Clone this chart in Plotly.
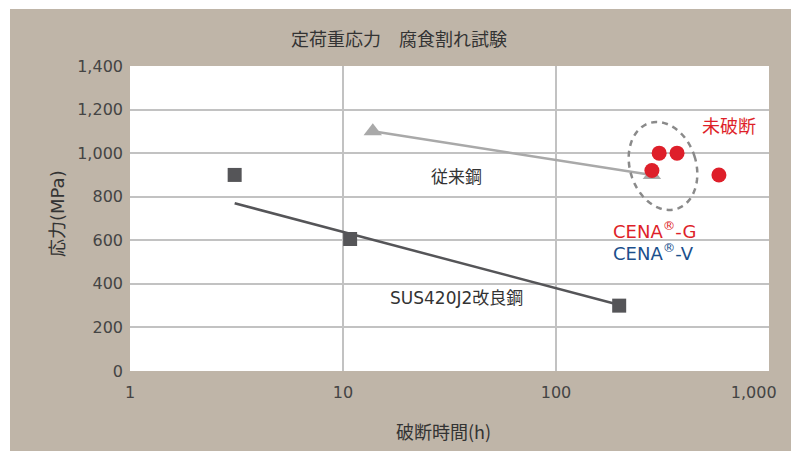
import numpy as np
import plotly.graph_objects as go

# ---- data ----
sus_x = [3.1, 10.8, 198]
sus_y = [900, 606, 300]
sus_trend_x = [3.1, 195]
sus_trend_y = [770, 305]

conv_x = [13.8, 282]
conv_y = [1100, 900]

cena_x = [305, 370, 282, 582]
cena_y = [1000, 1000, 920, 900]

x_ticks = [1, 10, 100, 1000]
x_ticktext = ["1", "10", "100", "1,000\u00a0\u00a0\u00a0\u00a0\u00a0\u00a0"]
y_ticks = [0, 200, 400, 600, 800, 1000, 1200, 1400]
y_ticktext = ["0", "200", "400", "600", "800", "1,000", "1,200", "1,400"]

BEIGE = "#bfb5a8"
DARK = "#555558"
LIGHT = "#a9a9a9"
RED = "#de1f2a"
BLUE = "#1c4f8c"
TXT = "#333333"
FONT = "DejaVu Sans, Noto Sans CJK JP, sans-serif"
JFONT = "Noto Sans CJK JP, sans-serif"

OFFX, OFFY = 10, 9  # white page border
W, H = 791 - OFFX, 451 - OFFY
# plot area in page pixels: x 130..769, y 66..371
L, R, T, B = 130 - OFFX, W - (769 - OFFX), 66 - OFFY, H - (371 - OFFY)
PW, PH = W - L - R, H - T - B


def px2paper(px, py):
    return (px - OFFX - L) / PW, (H - B - (py - OFFY)) / PH


def lx(px):
    return px2paper(px, 0)[0] * 3


def ly(py):
    return px2paper(0, py)[1] * 1400


fig = go.Figure()

fig.add_trace(go.Scatter(x=sus_trend_x, y=sus_trend_y, mode="lines",
                         line=dict(color=DARK, width=2.5), hoverinfo="skip"))
fig.add_trace(go.Scatter(x=sus_x, y=sus_y, mode="markers",
                         marker=dict(symbol="square", size=14, color=DARK)))
fig.add_trace(go.Scatter(x=conv_x, y=conv_y, mode="lines+markers",
                         line=dict(color=LIGHT, width=2.5),
                         marker=dict(symbol="triangle-up", size=16, color=LIGHT)))
fig.add_trace(go.Scatter(x=cena_x, y=cena_y, mode="markers",
                         marker=dict(symbol="circle", size=15, color=RED)))

# dashed ellipse (decoration) built in pixel space -> paper
cx, cy, a, b, ang = 663, 166, 33, 45, np.deg2rad(18)
t = np.linspace(0, 2 * np.pi, 80)
ex = cx + a * np.cos(t) * np.cos(ang) + b * np.sin(t) * np.sin(ang)
ey = cy - a * np.cos(t) * np.sin(ang) + b * np.sin(t) * np.cos(ang)
pts = [px2paper(u, v) for u, v in zip(ex, ey)]
path = "M " + " L ".join(f"{p[0]:.5f},{p[1]:.5f}" for p in pts) + " Z"
shapes = [dict(type="path", xref="paper", yref="paper", path=path,
               line=dict(color="#8a8a8a", width=2.5, dash="6px,5px"),
               layer="above")]

annotations = [
    dict(text="定荷重応力　腐食割れ試験", xref="paper", yref="paper",
         x=px2paper(399, 38)[0], y=px2paper(399, 38)[1], showarrow=False,
         xanchor="center", yanchor="middle",
         font=dict(size=18, color=TXT, family=JFONT)),
    dict(text="破断時間(h)", xref="paper", yref="paper",
         x=px2paper(443, 431)[0], y=px2paper(443, 431)[1], showarrow=False,
         xanchor="center", yanchor="middle",
         font=dict(size=18, color=TXT, family=JFONT)),
    dict(text="応力(MPa)", xref="paper", yref="paper", textangle=-90,
         x=px2paper(57, 214)[0], y=px2paper(57, 214)[1], showarrow=False,
         xanchor="center", yanchor="middle",
         font=dict(size=18, color=TXT, family=FONT)),
    dict(text="従来鋼", x=lx(456), y=ly(175), showarrow=False,
         font=dict(size=17, color=TXT, family=JFONT)),
    dict(text="SUS420J2改良鋼", x=lx(456), y=ly(298), showarrow=False,
         font=dict(size=17, color=TXT, family=FONT)),
    dict(text="未破断", x=lx(729), y=ly(125), showarrow=False,
         font=dict(size=18, color=RED, family=JFONT)),
    dict(text="CENA<sup>®</sup>-G", x=lx(611), y=ly(230), xanchor="left",
         showarrow=False, font=dict(size=18, color=RED, family=FONT)),
    dict(text="CENA<sup>®</sup>-V", x=lx(611), y=ly(252), xanchor="left",
         showarrow=False, font=dict(size=18, color=BLUE, family=FONT)),
]

fig.update_layout(
    width=W, height=H, autosize=False,
    margin=dict(l=L, r=R, t=T, b=B, pad=0, autoexpand=False),
    paper_bgcolor=BEIGE, plot_bgcolor="white",
    showlegend=False,
    shapes=shapes, annotations=annotations,
    font=dict(family=FONT, color="#444444", size=16),
)
fig.update_xaxes(type="log", range=[0, 3], tickvals=x_ticks, ticktext=x_ticktext,
                 showgrid=True, gridcolor="#c2c2c2", gridwidth=1.5,
                 zeroline=False, showline=False, ticks="", ticklabelstandoff=10,
                 automargin=False, ticklabeloverflow="allow",
                 tickfont=dict(size=16, color="#444444", family=FONT))
fig.update_yaxes(range=[0, 1400], tickvals=y_ticks, ticktext=y_ticktext,
                 showgrid=True, gridcolor="#c2c2c2", gridwidth=1.5,
                 zeroline=False, showline=False, ticks="", ticklabelstandoff=6,
                 automargin=False, ticklabeloverflow="allow",
                 tickfont=dict(size=16, color="#444444", family=FONT))

fig.write_html(
    "out.html",
    config={"responsive": False},
    post_script="document.body.style.margin='%dpx 0 0 %dpx';"
                "document.body.style.overflow='hidden';" % (OFFY, OFFX),
)
